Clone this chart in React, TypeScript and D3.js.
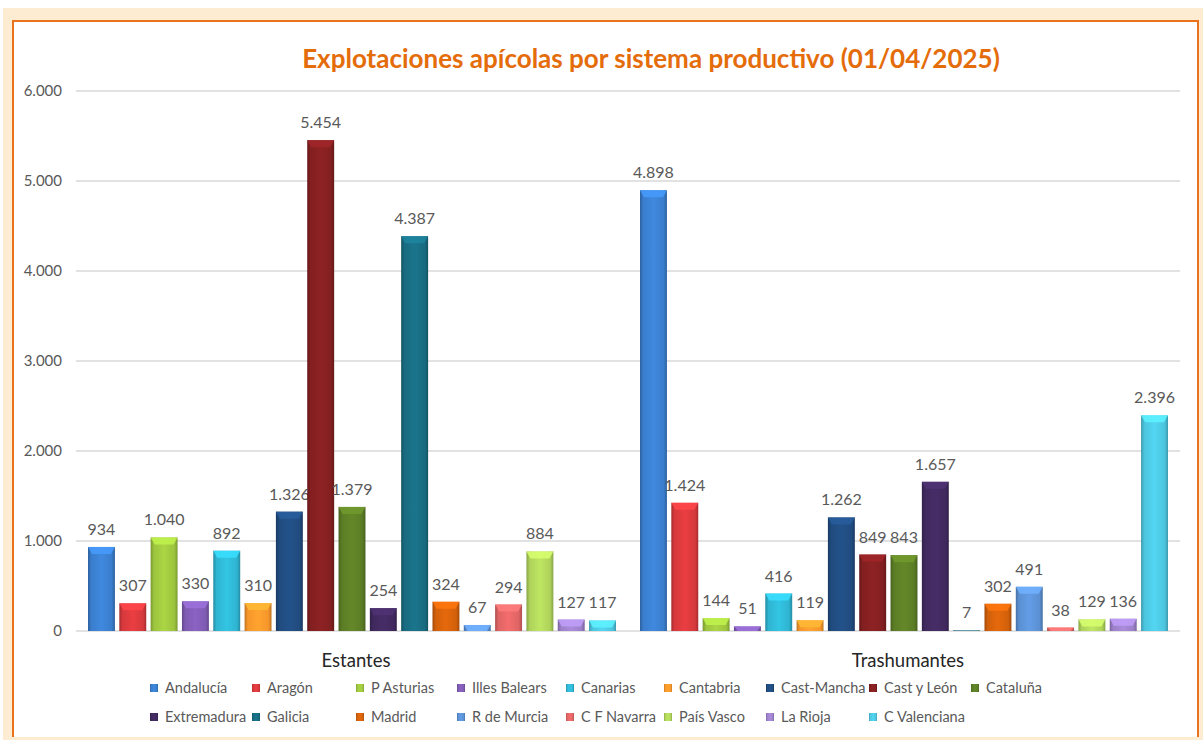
import React from "react";
import * as d3 from "d3";

const categories = ["Estantes", "Trashumantes"];
const series = [
  "Andalucía", "Aragón", "P Asturias", "Illes Balears", "Canarias", "Cantabria",
  "Cast-Mancha", "Cast y León", "Cataluña", "Extremadura", "Galicia", "Madrid",
  "R de Murcia", "C F Navarra", "País Vasco", "La Rioja", "C Valenciana",
];
const estantes = [934, 307, 1040, 330, 892, 310, 1326, 5454, 1379, 254, 4387, 324, 67, 294, 884, 127, 117];
const trashumantes = [4898, 1424, 144, 51, 416, 119, 1262, 849, 843, 1657, 7, 302, 491, 38, 129, 136, 2396];
const yTicks = [0, 1000, 2000, 3000, 4000, 5000, 6000];
const title = "Explotaciones apícolas por sistema productivo (01/04/2025)";

const colors = [
  "#3a7dcc", "#d6393c", "#9cc43e", "#7f5bb2", "#2fb4d1", "#f6962b",
  "#204b7e", "#821f20", "#5b7c25", "#40295e", "#186b80", "#d2600b",
  "#5b90d2", "#df6464", "#aed25a", "#9c80c9", "#4cc4de",
];

// legend layout (two rows, nine columns)
const legendX = [150, 252, 356, 457, 566, 664, 766, 869, 971];
const legendRowY = [688, 717];

const W = 1203, H = 740;
const plotLeft = 76, plotRight = 1180, plotTop = 91, plotBottom = 631;

const locale = d3.formatLocale({ decimal: ",", thousands: ".", grouping: [3], currency: ["", "€"] });
const fmt = locale.format(",d");

export default function App() {
  const data = [estantes, trashumantes];
  const x0 = d3.scaleBand<string>().domain(categories).range([plotLeft, plotRight]).padding(0);
  const x1 = d3.scaleBand<string>().domain(series).range([12, x0.bandwidth() - 12]).paddingInner(0.14).paddingOuter(0);
  const y = d3.scaleLinear().domain([0, 6000]).range([plotBottom, plotTop]);
  const font = "Lato, 'Open Sans', sans-serif";

  return (
    <div style={{ position: "absolute", left: 0, top: 0 }}>
      <svg width={W} height={H} style={{ display: "block" }}>
        <defs>
          {colors.map((c, i) => {
            const base = d3.color(c)!;
            const dark = d3.color(c)!.darker(0.7).formatHex();
            const light = d3.color(c)!.brighter(0.25).formatHex();
            return (
              <linearGradient key={i} id={`g${i}`} x1="0" x2="1" y1="0" y2="0">
                <stop offset="0%" stopColor={dark} />
                <stop offset="12%" stopColor={base.formatHex()} />
                <stop offset="50%" stopColor={light} />
                <stop offset="88%" stopColor={base.formatHex()} />
                <stop offset="100%" stopColor={dark} />
              </linearGradient>
            );
          })}
        </defs>
        <rect x={0} y={0} width={W} height={H} fill="#ffffff" />
        <rect x={3} y={8} width={W - 3} height={H - 8} fill="#fdebd2" />
        <rect x={13} y={21} width={1185} height={716} fill="#ffffff" />
        <path d="M13,737 V21 H1198 V737" fill="none" stroke="#e8731c" strokeWidth={2} />

        <text x={651} y={68} textAnchor="middle" fontFamily={font} fontWeight="bold" fontSize={26} fill="#e46c0a">
          {title}
        </text>

        {yTicks.map((t) => (
          <g key={t}>
            <line x1={plotLeft} x2={plotRight} y1={y(t)} y2={y(t)} stroke="#d9d9d9" strokeWidth={1.3} />
            <text x={62} y={y(t) + 5} textAnchor="end" fontFamily={font} fontSize={15} fill="#595959">
              {fmt(t)}
            </text>
          </g>
        ))}

        {categories.map((cat, ci) => (
          <g key={cat} transform={`translate(${x0(cat)},0)`}>
            {series.map((s, si) => {
              const v = data[ci][si];
              const bx = x1(s)!;
              const bw = x1.bandwidth();
              const by = y(v);
              const bh = plotBottom - by;
              const bev = Math.min(7, bh);
              const topLight = d3.color(colors[si])!.brighter(0.6).formatHex();
              return (
                <g key={s}>
                  <rect x={bx} y={by} width={bw} height={bh} fill={`url(#g${si})`} />
                  {bh > 1 && (
                    <path
                      d={`M${bx},${by} H${bx + bw} L${bx + bw - 4},${by + bev} H${bx + 4} Z`}
                      fill={topLight}
                      opacity={0.85}
                    />
                  )}
                  <text x={bx + bw / 2} y={by - 12} textAnchor="middle" fontFamily={font} fontSize={16} fill="#595959">
                    {fmt(v)}
                  </text>
                </g>
              );
            })}
            <text x={x0.bandwidth() / 2 + 4} y={667} textAnchor="middle" fontFamily={font} fontSize={18.5} fill="#262626">
              {cat}
            </text>
          </g>
        ))}

        {series.map((s, i) => {
          const row = i < 9 ? 0 : 1;
          const col = i < 9 ? i : i - 9;
          const lx = legendX[col];
          const ly = legendRowY[row];
          return (
            <g key={s}>
              <rect x={lx} y={ly - 4} width={8} height={8} fill={`url(#g${i})`} />
              <text x={lx + 15} y={ly + 5} fontFamily={font} fontSize={14.5} fill="#595959">
                {s}
              </text>
            </g>
          );
        })}
      </svg>
    </div>
  );
}
